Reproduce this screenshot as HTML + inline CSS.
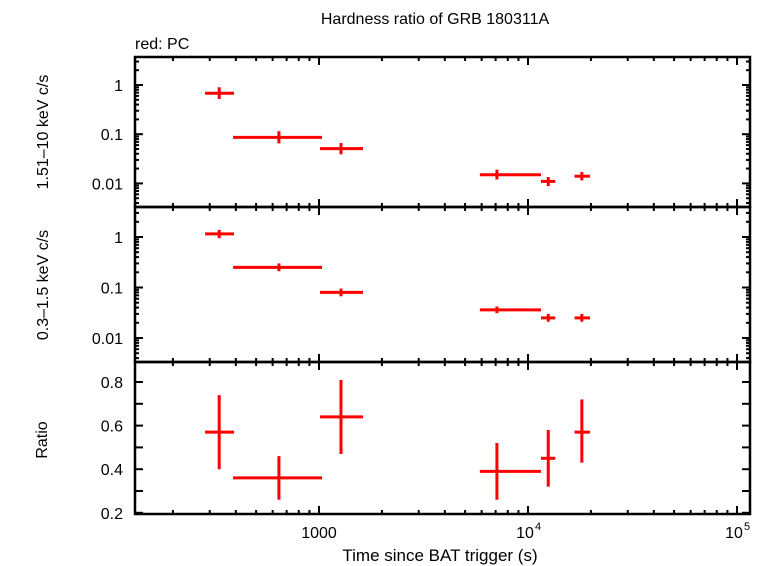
<!DOCTYPE html>
<html><head><meta charset="utf-8"><style>
body{margin:0;background:#fff;}
svg{display:block;font-family:"Liberation Sans",sans-serif;}
</style></head><body>
<svg id="chart" width="762" height="566" viewBox="0 0 762 566"></svg>
<script>
const tMid=[333,643,1274,7100,12500,18100];
const tLo=[285,388,1011,5885,11540,16700];
const tHi=[392,1034,1624,11540,13500,19800];
const hardVal=[0.68,0.086,0.051,0.015,0.011,0.014];
const hardLo=[0.52,0.065,0.039,0.012,0.0088,0.0115];
const hardHi=[0.90,0.115,0.066,0.019,0.0135,0.017];
const softVal=[1.15,0.25,0.08,0.036,0.025,0.025];
const softLo=[0.95,0.21,0.067,0.031,0.021,0.021];
const softHi=[1.38,0.30,0.095,0.042,0.030,0.030];
const ratioVal=[0.57,0.36,0.64,0.39,0.45,0.57];
const ratioLo=[0.40,0.26,0.47,0.26,0.32,0.43];
const ratioHi=[0.74,0.46,0.81,0.52,0.58,0.72];
const ratioTicks=[0.2,0.4,0.6,0.8];
const logTicks=[1,0.1,0.01];
const logTickLabels=["1","0.1","0.01"];

const NS="http://www.w3.org/2000/svg";
const svg=document.getElementById('chart');
function el(tag,attrs,parent){const e=document.createElementNS(NS,tag);for(const k in attrs)e.setAttribute(k,attrs[k]);(parent||svg).appendChild(e);return e;}
const L=135,R=750;
const xS=t=>319+(Math.log10(t)-3)*209;
const panels=[
 {top:57,bot:207,y:v=>85-Math.log10(v)*49.2,log:true,val:hardVal,lo:hardLo,hi:hardHi,name:'hard-panel'},
 {top:207,bot:362,y:v=>237-Math.log10(v)*50.5,log:true,val:softVal,lo:softLo,hi:softHi,name:'soft-panel'},
 {top:362,bot:514,y:v=>382-(v-0.8)*218,log:false,val:ratioVal,lo:ratioLo,hi:ratioHi,name:'ratio-panel'}
];
panels.forEach((p,pi)=>{
 const g=el('g',{});
 
 
 for(let d=2;d<=5;d++){for(let m=1;m<10;m++){const t=m*Math.pow(10,d);const x=xS(t);if(x<L||x>R)continue;const len=m===1?8:4;
  el('line',{x1:x,x2:x,y1:p.bot,y2:p.bot-len,stroke:'#000','stroke-width':2},g);
  el('line',{x1:x,x2:x,y1:p.top,y2:p.top+len,stroke:'#000','stroke-width':2},g);}}
 if(p.log){
  for(let e=-3;e<=1;e++){for(let m=1;m<10;m++){const v=m*Math.pow(10,e);const y=p.y(v);if(y<p.top||y>p.bot)continue;const len=m===1?8:4;
   el('line',{x1:L,x2:L+len,y1:y,y2:y,stroke:'#000','stroke-width':2},g);
   el('line',{x1:R,x2:R-len,y1:y,y2:y,stroke:'#000','stroke-width':2},g);}}
  logTicks.forEach((v,i)=>{const t=el('text',{x:L-12,y:p.y(v)+6,'text-anchor':'end','font-size':16},g);t.textContent=logTickLabels[i];
   });
 } else {
  for(let v=0.2;v<=0.81;v+=0.1){const y=p.y(v);
   el('line',{x1:L,x2:L+8,y1:y,y2:y,stroke:'#000','stroke-width':2},g);
   el('line',{x1:R,x2:R-8,y1:y,y2:y,stroke:'#000','stroke-width':2},g);}
  ratioTicks.forEach(v=>{const t=el('text',{x:L-12,y:p.y(v)+6,'text-anchor':'end','font-size':16},g);t.textContent=v.toFixed(1);
   });
 }
 el('rect',{x:L,y:p.top,width:R-L,height:p.bot-p.top,fill:'none',stroke:'#000','stroke-width':2.5},g);
 p.val.forEach((v,i)=>{const pt=el('g',{},g);
  
  
  const x=xS(tMid[i]),y=p.y(v);
  el('line',{x1:xS(tLo[i]),x2:xS(tHi[i]),y1:y,y2:y,stroke:'#f00','stroke-width':3},pt);
  el('line',{x1:x,x2:x,y1:p.y(p.lo[i]),y2:p.y(p.hi[i]),stroke:'#f00','stroke-width':3},pt);
 });
});
[[1000,'1000'],[1e4,'10'],[1e5,'10']].forEach(([t,s],i)=>{const x=xS(t);
 const tx=el('text',{x:i?x-3:x,y:538,'text-anchor':'middle','font-size':16});tx.textContent=s;
 
 if(i){const sp=el('text',{x:x+7,y:530,'font-size':11});sp.textContent=i===1?'4':'5';
  }
});
function txt(s,attrs,name){const t=el('text',attrs);t.textContent=s;return t;}
txt('Hardness ratio of GRB 180311A',{x:435,y:24,'text-anchor':'middle','font-size':16},'chart-title');
txt('red: PC',{x:135,y:49,'font-size':16},'legend-label');
txt('Time since BAT trigger (s)',{x:440,y:561,'text-anchor':'middle','font-size':17},'x-axis-title');
txt('1.51–10 keV c/s',{x:0,y:0,'text-anchor':'middle','font-size':16,transform:'translate(48,132) rotate(-90)'},'y-axis-title-hard');
txt('0.3–1.5 keV c/s',{x:0,y:0,'text-anchor':'middle','font-size':16,transform:'translate(48,285) rotate(-90)'},'y-axis-title-soft');
txt('Ratio',{x:0,y:0,'text-anchor':'middle','font-size':16,transform:'translate(47,440) rotate(-90)'},'y-axis-title-ratio');
</script>
</body></html>
